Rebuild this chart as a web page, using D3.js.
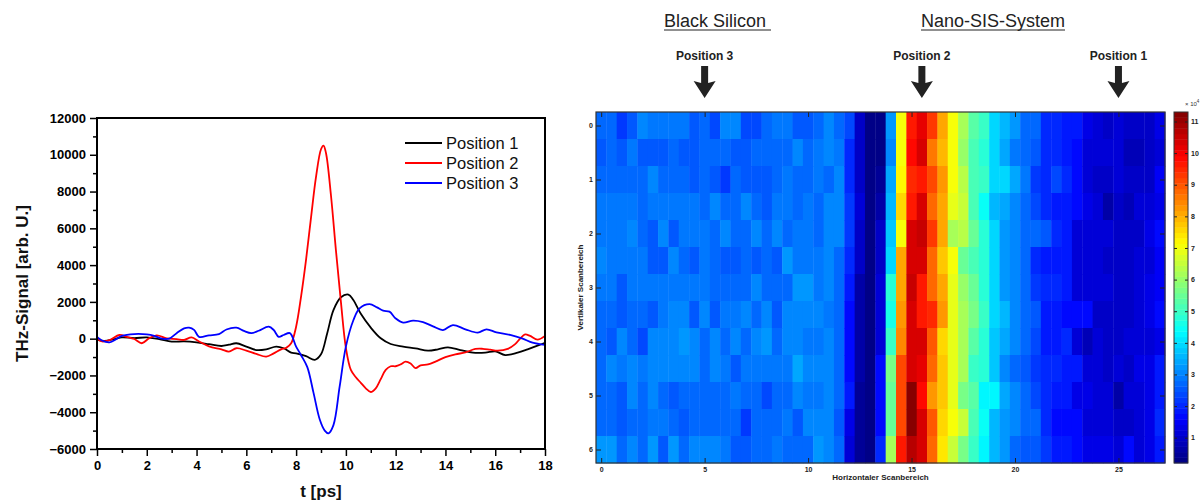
<!DOCTYPE html>
<html>
<head>
<meta charset="utf-8">
<script src="https://cdn.jsdelivr.net/npm/d3@7"></script>
<style>
  body { margin: 0; background: #fff; }
  svg { display: block; font-family: Arial, "Liberation Sans", sans-serif; }
</style>
</head>
<body>
<svg id="chart" width="1200" height="502"></svg>
<script>
// ---------- THz time traces ----------
const pos1Time = [0,0.3,0.7,1,1.5,2,2.5,3,3.5,4,4.5,5,5.3,5.6,6,6.4,6.8,7.2,7.5,7.8,8,8.4,8.75,9,9.25,9.5,9.8,10.1,10.3,10.6,11,11.4,11.8,12.3,12.8,13.3,13.7,14.1,14.6,15.1,15.6,16,16.4,16.9,17.3,17.7,18];
const pos1Signal = [-70,-120,-20,70,30,70,-30,-160,-150,-200,-300,-400,-330,-250,-430,-620,-580,-430,-520,-760,-800,-950,-1150,-850,300,1550,2250,2400,2100,1350,600,20,-290,-430,-530,-650,-580,-470,-620,-760,-760,-690,-890,-760,-580,-380,-220];

const pos2Time = [0,0.2,0.5,0.9,1.2,1.5,1.8,2.1,2.4,2.8,3.2,3.5,3.8,4.1,4.5,5,5.3,5.6,6,6.4,6.8,7.1,7.4,7.6,7.8,8,8.2,8.4,8.6,8.8,9,9.1,9.2,9.4,9.6,9.8,10,10.2,10.4,10.6,10.8,11,11.2,11.4,11.6,11.8,12,12.2,12.4,12.6,12.8,13,13.3,13.6,14,14.4,14.8,15.2,15.5,15.8,16.1,16.5,16.8,17,17.2,17.4,17.7,18];
const pos2Signal = [0,-150,-80,200,100,-20,-250,30,180,20,-20,-70,70,-150,-420,-580,-700,-520,-650,-830,-980,-800,-580,-500,-250,650,2300,4300,6600,8800,10300,10500,10100,7800,4800,2000,-500,-1700,-2100,-2400,-2700,-2900,-2700,-2200,-1700,-1500,-1500,-1400,-1250,-1350,-1600,-1450,-1400,-1250,-1000,-850,-750,-560,-550,-600,-650,-560,-300,0,230,150,-50,150];

const pos3Time = [0,0.2,0.5,0.8,1,1.5,2,2.3,2.6,2.9,3.2,3.5,3.7,3.9,4.1,4.5,4.9,5.2,5.6,5.9,6.2,6.5,6.9,7.1,7.3,7.5,7.75,8,8.2,8.45,8.7,8.95,9.15,9.3,9.5,9.75,10,10.3,10.55,10.95,11.25,11.5,11.75,12,12.3,12.7,13.1,13.5,13.9,14.3,14.8,15.3,15.65,16.05,16.6,17.1,17.5,18];
const pos3Signal = [100,-100,-200,0,150,250,230,150,0,0,300,560,600,480,100,180,250,500,600,420,300,430,650,470,100,200,300,-430,-900,-1550,-2950,-4400,-5000,-5150,-4700,-2600,-430,1000,1650,1880,1700,1520,1470,1100,870,980,900,670,470,740,510,330,510,340,200,0,-220,-340];

const seriesNames = ["Position 1", "Position 2", "Position 3"];
const seriesColors = ["#000000", "#ff0000", "#0000ff"];
const timeTicks = [0,2,4,6,8,10,12,14,16,18];
const signalTicks = [-6000,-4000,-2000,0,2000,4000,6000,8000,10000,12000];

// ---------- Scan map (rows: vertical 0..6 step 0.5, cols: horizontal 0..27 step 0.5) ----------
const scanRows = [
  [2.8,2.8,2.2,2.5,3.0,2.9,2.9,2.9,2.9,2.5,2.8, 2.4,3.0,3.0,2.4,2.4,2.8,2.9,2.9,2.6,2.6,2.8, 3.0,2.8,2.4,1.05,0.25,0.35,3.2,7.1,9.6,10.2,9.3, 8.1,7.0,6.1,5.3,4.9,3.9,3.5,3.3,2.8,2.7,2.1, 2.1,1.8,1.8,1.4,1.1,1.0,1.1,0.9,1.0,1.0,1.3],
  [2.5,2.8,2.5,2.9,2.5,2.5,2.5,2.8,2.5,2.5,2.7, 2.8,2.8,2.6,2.6,2.8,2.8,2.8,2.8,3.0,2.7,2.95, 3.0,2.9,2.0,1.0,0.2,0.25,3.1,7.1,9.9,10.3,8.6, 8.0,7.0,6.0,5.2,4.8,3.9,3.4,2.9,2.8,2.5,2.0, 2.1,1.8,1.7,1.2,1.2,1.2,1.1,0.8,0.8,1.0,1.1],
  [2.8,2.7,2.7,2.8,2.7,3.05,2.7,2.7,2.8,2.5,2.8, 2.6,2.2,2.8,2.6,2.6,2.6,2.8,2.95,2.7,2.7,2.95, 2.7,3.0,2.1,1.0,0.25,0.45,3.4,7.3,9.4,9.7,9.15, 8.3,7.0,6.3,5.2,5.0,3.9,4.0,3.4,2.9,2.2,2.0, 2.35,2.0,1.7,1.1,1.0,1.0,1.2,0.9,0.9,1.0,1.5],
  [2.85,2.85,2.85,2.85,2.7,2.9,2.9,2.9,2.9,2.9,2.7, 3.0,2.8,2.8,3.0,2.8,2.6,2.9,2.9,2.7,2.9,2.7, 3.0,3.0,2.2,1.1,0.25,0.65,3.65,7.6,9.6,10.3,8.7, 8.1,6.8,6.5,5.2,4.4,3.5,3.4,3.1,2.7,2.35,2.0, 1.9,1.8,1.7,1.3,1.1,0.65,1.0,0.8,1.1,1.1,1.4],
  [2.85,2.85,2.85,3.0,2.8,2.6,3.05,2.6,2.85,2.85,2.85, 2.8,3.05,2.8,2.8,3.05,2.8,3.0,2.7,2.85,2.85,2.7, 3.0,3.0,2.2,0.9,0.25,0.9,3.75,7.1,10.3,10.5,9.3, 8.1,6.2,6.3,5.45,4.8,3.9,3.3,3.1,2.7,2.7,2.6, 2.0,1.8,1.2,1.2,1.2,1.2,1.0,1.0,1.0,1.3,1.6],
  [3.0,2.85,2.85,2.85,2.85,2.6,2.6,3.0,2.8,2.6,2.85, 2.8,2.5,2.5,2.8,2.5,2.8,2.5,3.15,2.85,2.85,2.9, 3.1,2.8,2.1,0.9,0.25,1.0,4.0,8.1,10.3,10.3,8.8, 7.7,7.1,5.55,5.2,4.8,3.9,3.2,3.0,2.7,2.0,1.8, 1.9,1.8,1.2,1.2,1.1,0.9,0.9,1.0,1.1,1.2,1.5],
  [2.95,2.85,2.6,2.85,2.85,2.85,2.85,2.85,2.85,2.85,2.85, 2.8,2.8,2.8,2.8,3.0,2.7,2.7,2.7,3.15,3.15,2.85, 3.0,2.7,1.9,0.65,0.2,1.1,4.8,8.1,10.6,9.7,8.7, 8.1,6.8,6.0,5.55,4.8,3.9,3.2,3.1,2.8,2.2,2.0, 2.0,1.8,1.2,1.2,1.1,1.1,0.9,0.9,1.1,1.3,1.5],
  [2.7,2.8,2.6,2.8,2.8,2.6,2.85,3.05,3.05,2.6,3.1, 2.6,2.85,2.85,3.0,2.8,3.0,2.6,3.0,3.1,3.1,3.1, 2.9,2.8,1.6,0.65,0.2,1.2,4.6,8.2,10.4,9.7,9.4, 8.3,6.8,6.1,5.7,4.9,3.9,3.65,3.0,2.8,2.5,1.8, 1.8,1.7,1.7,1.7,0.9,0.9,0.9,0.9,1.2,1.3,1.6],
  [2.8,2.6,3.0,2.7,2.35,3.0,3.0,3.0,3.15,3.0,2.8, 3.0,2.8,3.0,2.8,3.05,3.15,2.8,3.0,3.0,2.85,2.85, 3.0,2.7,1.6,0.65,0.25,1.2,5.0,8.4,10.3,10.3,9.0, 7.6,6.8,6.2,5.3,4.8,3.75,3.4,3.0,2.8,2.35,1.9, 1.8,2.0,1.1,0.8,1.1,1.0,1.0,1.2,1.2,1.2,1.4],
  [2.7,3.05,2.85,3.0,2.85,3.0,3.0,3.0,3.0,3.0,2.7, 3.0,2.85,2.6,2.85,2.85,2.85,2.9,2.9,3.35,3.1,3.1, 3.0,2.8,1.6,0.65,0.2,1.6,5.7,9.15,10.4,10.2,8.7, 7.7,6.9,6.1,5.0,4.8,3.75,3.1,2.8,2.5,2.2,2.0, 2.0,1.8,1.8,1.1,1.1,1.0,1.2,1.0,1.3,1.3,1.9],
  [2.8,2.8,2.6,3.0,2.8,3.1,2.8,2.6,2.8,2.65,2.65, 2.7,2.7,2.9,2.7,2.7,2.35,2.8,2.8,3.1,2.9,2.85, 3.0,2.7,1.8,0.45,0.2,1.6,5.55,9.15,11.25,9.9,8.3, 7.7,6.8,5.7,5.3,4.3,4.2,3.4,3.1,2.7,2.35,2.0, 1.8,1.8,1.3,1.3,1.2,1.1,0.65,1.1,1.1,1.3,1.8],
  [2.8,2.7,2.6,2.8,2.8,2.9,2.9,2.8,2.6,2.8,2.65, 2.7,2.7,2.7,2.2,2.7,2.7,2.7,2.85,2.6,3.0,3.0, 3.1,2.6,1.3,0.45,0.2,1.6,5.45,9.15,11.3,10.3,8.9, 7.6,7.0,6.5,5.2,4.4,3.65,3.3,3.0,2.7,2.7,2.0, 1.6,1.7,1.7,1.1,1.1,1.1,0.9,0.9,1.2,1.3,2.0],
  [3.15,3.15,2.8,3.0,2.8,3.15,2.6,3.15,2.8,3.0,3.0, 3.0,2.9,2.5,2.5,2.8,2.8,2.9,2.7,2.7,2.8,3.15, 3.1,2.7,1.2,0.45,0.35,2.1,6.1,9.6,10.7,10.4,8.8, 7.4,6.5,5.7,5.0,4.3,3.65,3.2,2.8,2.5,2.5,2.2, 1.8,1.8,1.7,1.3,1.3,1.3,1.2,1.6,1.2,1.4,1.9]
];
const scanStep = 0.5;
const horizTicks = [0,5,10,15,20,25];
const vertTicks = [0,1,2,3,4,5,6];
const colorTicks = [1,2,3,4,5,6,7,8,9,10,11];
const colorRange = [0.2, 11.3];
const markerNames = ["Position 3", "Position 2", "Position 1"];
const markerX = [5, 15.5, 25];
const regionNames = ["Black Silicon", "Nano-SIS-System"];

const svg = d3.select("#chart");

// ================= left: time traces =================
const xL = d3.scaleLinear().domain([0, 18]).range([97, 545]);
const yL = d3.scaleLinear().domain([-6000, 12000]).range([449, 118]);

const gL = svg.append("g");

// minor ticks
gL.append("g").attr("transform", `translate(${xL(0)},0)`)
  .call(d3.axisLeft(yL).tickValues(d3.range(-5000, 12000, 2000)).tickSize(4).tickFormat(""))
  .call(g => g.select(".domain").remove())
  .selectAll("line").attr("stroke", "#000").attr("stroke-width", 1.5);
gL.append("g").attr("transform", `translate(0,${yL(-6000)})`)
  .call(d3.axisBottom(xL).tickValues(d3.range(1, 18, 2)).tickSize(4).tickFormat(""))
  .call(g => g.select(".domain").remove())
  .selectAll("line").attr("stroke", "#000").attr("stroke-width", 1.5);

// major ticks + labels
const yAxisL = gL.append("g").attr("transform", `translate(${xL(0)},0)`)
  .call(d3.axisLeft(yL).tickValues(signalTicks).tickSize(7).tickPadding(4).tickFormat(d3.format("d")));
const xAxisL = gL.append("g").attr("transform", `translate(0,${yL(-6000)})`)
  .call(d3.axisBottom(xL).tickValues(timeTicks).tickSize(7).tickPadding(5).tickFormat(d3.format("d")));
[yAxisL, xAxisL].forEach(ax => {
  ax.select(".domain").remove();
  ax.selectAll("line").attr("stroke", "#000").attr("stroke-width", 1.5);
  ax.selectAll("text").attr("font-size", 13).attr("font-weight", "bold").attr("fill", "#000")
    .attr("font-family", "Arial, 'Liberation Sans', sans-serif");
});

// traces
const line = d3.line().x(d => xL(d[0])).y(d => yL(d[1])).curve(d3.curveCatmullRom.alpha(0.5));
const traces = [
  d3.zip(pos1Time, pos1Signal),
  d3.zip(pos2Time, pos2Signal),
  d3.zip(pos3Time, pos3Signal)
];
gL.append("defs").append("clipPath").attr("id", "clipL")
  .append("rect").attr("x", xL(0)).attr("y", yL(12000)).attr("width", xL(18) - xL(0)).attr("height", yL(-6000) - yL(12000));
const tracesG = gL.append("g").attr("clip-path", "url(#clipL)");
traces.forEach((tr, i) => {
  tracesG.append("path").datum(tr).attr("d", line)
    .attr("fill", "none").attr("stroke", seriesColors[i]).attr("stroke-width", 1.8);
});

// frame
gL.append("rect").attr("x", xL(0)).attr("y", yL(12000))
  .attr("width", xL(18) - xL(0)).attr("height", yL(-6000) - yL(12000))
  .attr("fill", "none").attr("stroke", "#000").attr("stroke-width", 2);

// legend
const legendL = gL.append("g");
seriesNames.forEach((name, i) => {
  const y = 143 + i * 20;
  legendL.append("line").attr("x1", 405).attr("x2", 442).attr("y1", y).attr("y2", y)
    .attr("stroke", seriesColors[i]).attr("stroke-width", 1.8);
  legendL.append("text").attr("x", 446).attr("y", y + 6).text(name)
    .attr("font-size", 16.5).attr("fill", "#111");
});

// axis titles
gL.append("text").attr("transform", `translate(28,${(yL(12000) + yL(-6000)) / 2}) rotate(-90)`)
  .attr("text-anchor", "middle").attr("font-size", 17).attr("font-weight", "bold").attr("fill", "#111")
  .text("THz-Signal [arb. U.]");
gL.append("text").attr("x", (xL(0) + xL(18)) / 2).attr("y", 497)
  .attr("text-anchor", "middle").attr("font-size", 17).attr("font-weight", "bold").attr("fill", "#111")
  .text("t [ps]");

// ================= right: scan map =================
function jet(f) {
  f = Math.max(0, Math.min(1, f));
  const c = v => Math.round(255 * Math.max(0, Math.min(1, v)));
  return `rgb(${c(Math.min(4 * f - 1.5, -4 * f + 4.5))},${c(Math.min(4 * f - 0.5, -4 * f + 3.5))},${c(Math.min(4 * f + 0.5, -4 * f + 2.5))})`;
}
const levels = 64;
const norm = d3.scaleLinear().domain(colorRange).range([0, 1]).clamp(true);
const colorOf = v => jet((Math.min(levels - 1, Math.floor(norm(v) * levels)) + 0.5) / levels);

const nCols = scanRows[0].length;
const nRows = scanRows.length;
const xH = d3.scaleLinear().domain([-scanStep / 2, (nCols - 1) * scanStep + scanStep / 2]).range([596, 1165]);
const yH = d3.scaleLinear().domain([-scanStep / 2, (nRows - 1) * scanStep + scanStep / 2]).range([112, 463]);

const cells = [];
scanRows.forEach((row, j) => row.forEach((v, i) => cells.push({ h: i * scanStep, vt: j * scanStep, v })));
const gH = svg.append("g");
gH.selectAll("rect.cell").data(cells).join("rect").attr("class", "cell")
  .attr("x", d => xH(d.h - scanStep / 2))
  .attr("y", d => yH(d.vt - scanStep / 2))
  .attr("width", xH(scanStep) - xH(0) + 0.4)
  .attr("height", yH(scanStep) - yH(0) + 0.4)
  .attr("fill", d => colorOf(d.v));

// frame and inward ticks
const hx0 = xH.range()[0], hx1 = xH.range()[1], hy0 = yH.range()[0], hy1 = yH.range()[1];
const styleSmallAxis = ax => {
  ax.select(".domain").remove();
  ax.selectAll("line").attr("stroke", "#222").attr("stroke-width", 1);
  ax.selectAll("text").attr("font-size", 7).attr("font-weight", "bold").attr("fill", "#222")
    .attr("font-family", "Arial, 'Liberation Sans', sans-serif");
};
gH.append("g").attr("transform", `translate(0,${hy1})`)
  .call(d3.axisBottom(xH).tickValues(horizTicks).tickSizeInner(-5).tickSizeOuter(0).tickPadding(5).tickFormat(d3.format("d")))
  .call(styleSmallAxis)
  .selectAll("text").attr("dy", "0.71em").attr("y", 4);
gH.append("g").attr("transform", `translate(0,${hy0})`)
  .call(d3.axisTop(xH).tickValues(horizTicks).tickSizeInner(-5).tickSizeOuter(0).tickFormat(""))
  .call(styleSmallAxis);
gH.append("g").attr("transform", `translate(${hx0},0)`)
  .call(d3.axisLeft(yH).tickValues(vertTicks).tickSizeInner(-5).tickSizeOuter(0).tickFormat(d3.format("d")))
  .call(styleSmallAxis)
  .selectAll("text").attr("x", -3);
gH.append("g").attr("transform", `translate(${hx1},0)`)
  .call(d3.axisRight(yH).tickValues(vertTicks).tickSizeInner(-5).tickSizeOuter(0).tickFormat(""))
  .call(styleSmallAxis);
gH.append("rect").attr("x", hx0).attr("y", hy0).attr("width", hx1 - hx0).attr("height", hy1 - hy0)
  .attr("fill", "none").attr("stroke", "#333").attr("stroke-width", 1.2);

gH.append("text").attr("x", (hx0 + hx1) / 2).attr("y", 480).attr("text-anchor", "middle")
  .attr("font-size", 8).attr("font-weight", "bold").attr("fill", "#222").text("Horizontaler Scanbereich");
gH.append("text").attr("transform", `translate(583,${(hy0 + hy1) / 2}) rotate(-90)`).attr("text-anchor", "middle")
  .attr("font-size", 8).attr("font-weight", "bold").attr("fill", "#222").text("Vertikaler Scanbereich");

// colour bar
const cbX0 = 1174, cbX1 = 1188;
const yC = d3.scaleLinear().domain(colorRange).range([hy1, hy0]);
const bands = d3.range(levels);
const bandH = (hy1 - hy0) / levels;
gH.selectAll("rect.band").data(bands).join("rect").attr("class", "band")
  .attr("x", cbX0).attr("width", cbX1 - cbX0)
  .attr("y", k => hy1 - (k + 1) * bandH).attr("height", bandH + 0.4)
  .attr("fill", k => jet((k + 0.5) / levels));
gH.append("g").attr("transform", `translate(${cbX1},0)`)
  .call(d3.axisRight(yC).tickValues(colorTicks).tickSizeInner(-3).tickSizeOuter(0).tickPadding(4).tickFormat(d3.format("d")))
  .call(styleSmallAxis)
  .selectAll("text").attr("x", 3);
gH.append("g").attr("transform", `translate(${cbX0},0)`)
  .call(d3.axisLeft(yC).tickValues(colorTicks).tickSizeInner(-3).tickSizeOuter(0).tickFormat(""))
  .call(styleSmallAxis);
gH.append("rect").attr("x", cbX0).attr("y", hy0).attr("width", cbX1 - cbX0).attr("height", hy1 - hy0)
  .attr("fill", "none").attr("stroke", "#333").attr("stroke-width", 1);
const expo = gH.append("text").attr("x", 1185).attr("y", 106).attr("font-size", 6).attr("fill", "#333");
expo.append("tspan").text("× 10");
expo.append("tspan").attr("dy", -3).attr("font-size", 4.5).text("4");

// region titles
const titleX = [715, 993];
regionNames.forEach((name, i) => {
  const t = svg.append("text").attr("x", titleX[i]).attr("y", 27).attr("text-anchor", "middle")
    .attr("font-size", 18).attr("fill", "#222").text(name);
  const bb = t.node().getBBox();
  svg.append("line").attr("x1", bb.x).attr("x2", bb.x + bb.width + (i === 0 ? 5 : 0))
    .attr("y1", 30).attr("y2", 30).attr("stroke", "#222").attr("stroke-width", 1.2);
});

// position markers with arrows
markerNames.forEach((name, i) => {
  const cx = xH(markerX[i]);
  svg.append("text").attr("x", cx).attr("y", 60).attr("text-anchor", "middle")
    .attr("font-size", 12).attr("font-weight", "bold").attr("fill", "#222").text(name);
  const top = 66, bot = 98, headH = 15, shaftW = 3.5, headW = 11;
  svg.append("path")
    .attr("d", `M${cx - shaftW},${top} L${cx + shaftW},${top} L${cx + shaftW},${bot - headH} L${cx + headW},${bot - headH - 2} L${cx},${bot} L${cx - headW},${bot - headH - 2} L${cx - shaftW},${bot - headH} Z`)
    .attr("fill", "#222");
});
</script>
</body>
</html>
